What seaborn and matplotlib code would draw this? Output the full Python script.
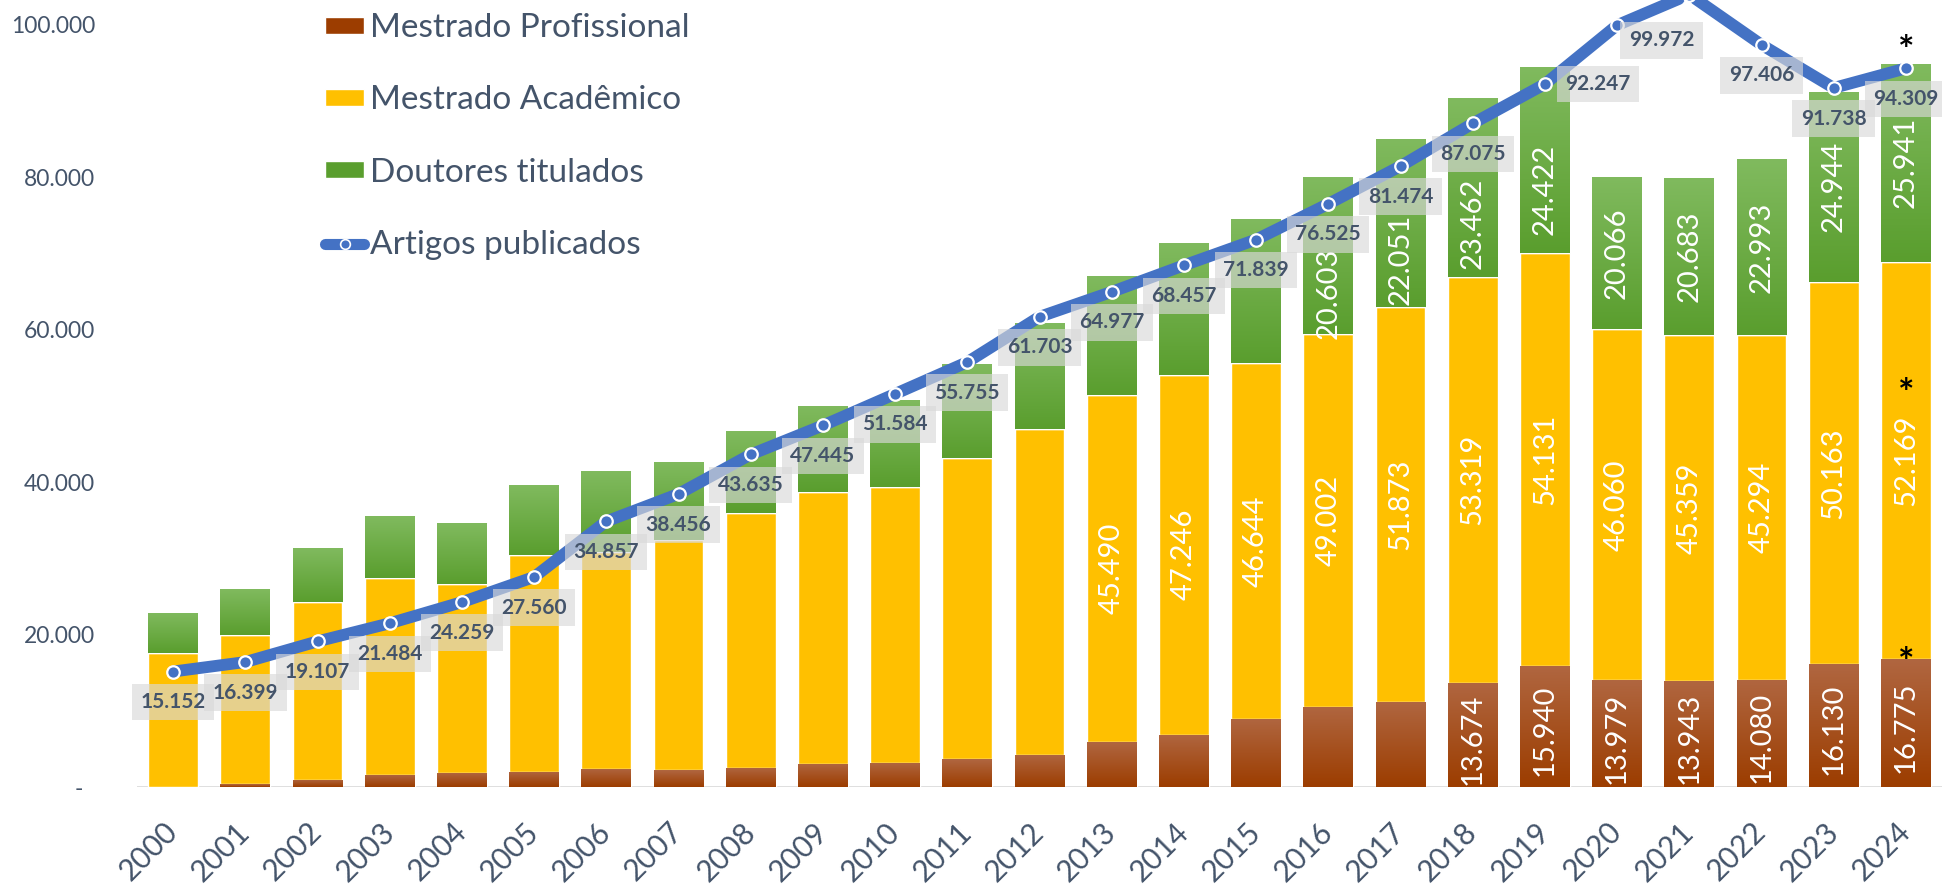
import numpy as np
import pandas as pd
import matplotlib
matplotlib.use('Agg')
import matplotlib.pyplot as plt
from matplotlib.colors import LinearSegmentedColormap
from matplotlib.patches import Patch
from matplotlib.lines import Line2D
import seaborn as sns

# Data
years = [str(y) for y in range(2000, 2025)]
mestrado_prof = [0, 350, 960, 1575, 1880, 2010, 2400, 2230, 2540, 3020, 3190, 3630, 4200,
                 5900, 6850, 8950, 10500, 11150, 13674, 15940, 13979, 13943, 14080, 16130, 16775]
mestrado_acad = [17550, 19600, 23320, 25900, 24760, 28440, 28500, 30170, 33420, 35690, 36180,
                 39550, 42780, 45490, 47246, 46644, 49002, 51873, 53319, 54131, 46060, 45359,
                 45294, 50163, 52169]
doutores = [5285, 6030, 7085, 8130, 7970, 9180, 10600, 10280, 10760, 11290, 11420, 12340, 13910,
            15670, 17295, 18946, 20603, 22051, 23462, 24422, 20066, 20683, 22993, 24944, 25941]
artigos = [15152, 16399, 19107, 21484, 24259, 27560, 34857, 38456, 43635, 47445, 51584, 55755,
           61703, 64977, 68457, 71839, 76525, 81474, 87075, 92247, 99972, 104000, 97406, 91738, 94309]
artigos_rotulo = [True] * 21 + [False] + [True] * 3
yticks = [0, 20000, 40000, 60000, 80000, 100000]
ytick_labels = ['-  ', '20.000', '40.000', '60.000', '80.000', '100.000']

df = pd.DataFrame({'ano': years, 'mp': mestrado_prof, 'ma': mestrado_acad,
                   'dr': doutores, 'art': artigos})
df['base_dr'] = df['mp'] + df['ma']

TXT = '#44546A'
BROWN = ('#B06640', '#9C3D00')
YELLOW = ('#FFC000', '#FFC000')
GREEN = ('#80BA5E', '#5A9E2E')
BLUE = '#4472C4'

sns.set_theme(style='white')
plt.rcParams['font.family'] = ['Lato', 'DejaVu Sans']


def fmt(v):
    return f'{int(v):,}'.replace(',', '.')


fig = plt.figure(figsize=(19.42, 8.91), dpi=100)
ax = fig.add_axes([137 / 1942, 104 / 891, 1805 / 1942, 787 / 891])

layers = [('mp', None, BROWN), ('ma', 'mp', YELLOW), ('dr', 'base_dr', GREEN)]
containers = []
for col, base, cols in layers:
    bottom = 0 if base is None else df[base].values
    sns.barplot(data=df, x='ano', y=col, bottom=bottom, color=cols[1], saturation=1,
                width=0.69, ax=ax, zorder=2)
    containers.append(ax.containers[-1])

# vertical gradient on each bar segment
for cont, (_, _, cols) in zip(containers, layers):
    if cols[0] == cols[1]:
        continue
    cmap = LinearSegmentedColormap.from_list('g', [cols[1], cols[0]])
    grad = np.linspace(0, 1, 64).reshape(-1, 1)
    for p in cont.patches:
        x0, y0 = p.get_x(), p.get_y()
        w, h = p.get_width(), p.get_height()
        if h <= 0:
            continue
        im = ax.imshow(grad, extent=[x0, x0 + w, y0, y0 + h], origin='lower',
                       aspect='auto', cmap=cmap, zorder=2.1)
        im.set_clip_path(p)

sns.lineplot(x=np.arange(len(years)), y=artigos, ax=ax, color=BLUE, lw=8.5,
             marker='o', markersize=9, markerfacecolor=BLUE, markeredgecolor='white',
             markeredgewidth=1.6, zorder=4, solid_joinstyle='round')

ax.set_xlim(-0.5, len(years) - 0.5)
ax.set_ylim(0, 103280)
ax.axhline(0, color='#D9D9D9', lw=1.2, zorder=1)
for s in ax.spines.values():
    s.set_visible(False)
ax.set_xlabel('')
ax.set_ylabel('')
ax.set_yticks(yticks)
ax.set_yticklabels(ytick_labels, fontsize=16.5, color=TXT)
ax.tick_params(axis='y', length=0, pad=30)
ax.tick_params(axis='x', length=0, pad=29)
ax.set_xticks(range(len(years)))
ax.set_xticklabels(years, rotation=45, ha='right', va='center', rotation_mode='anchor',
                   fontsize=21.5, color=TXT)
ax.grid(False)

# values inside bars
green_shift = {16: -38, 17: -37, 18: -36, 19: -29}
for i in range(len(years)):
    mp, ma, dr = mestrado_prof[i], mestrado_acad[i], doutores[i]
    if i >= 18:
        ax.annotate(fmt(mp), (i, mp / 2), xytext=(0, -3), textcoords='offset points',
                    rotation=90, ha='center', va='center', color='white', fontsize=21, zorder=3)
    if i >= 13:
        ax.text(i, mp + ma / 2, fmt(ma), rotation=90, ha='center', va='center', color='white',
                fontsize=21, zorder=3)
    if i >= 16:
        ax.annotate(fmt(dr), (i, mp + ma + dr / 2), xytext=(0, green_shift.get(i, 0) * 0.72),
                    textcoords='offset points', rotation=90, ha='center', va='center',
                    color='white', fontsize=21, zorder=3)

# article labels
label_off = {19: (38, 0), 20: (32, -11)}
for i, v in enumerate(artigos):
    if not artigos_rotulo[i]:
        continue
    ax.annotate(fmt(v), (i, v), xytext=label_off.get(i, (0, -22)), textcoords='offset points',
                ha='center', va='center', fontsize=15, fontweight='bold', color=TXT, zorder=5,
                bbox=dict(boxstyle='square,pad=0.4', fc='#D9D9D9', ec='none', alpha=0.65))

# asterisks on 2024
last = len(years) - 1
star = dict(textcoords='offset points', ha='center', va='center', fontsize=28,
            fontweight='bold', color='black', zorder=6)
ax.annotate('*', (last, artigos[last]), xytext=(0, 12), **star)
ax.annotate('*', (last, mestrado_prof[last] + mestrado_acad[last]), xytext=(0, -96), **star)
ax.annotate('*', (last, mestrado_prof[last]), xytext=(0, -3), **star)

handles = [Patch(facecolor=BROWN[1], label='Mestrado Profissional'),
           Patch(facecolor=YELLOW[1], label='Mestrado Acadêmico'),
           Patch(facecolor=GREEN[1], label='Doutores titulados'),
           Line2D([], [], color=BLUE, lw=8, marker='o', markersize=7, markerfacecolor=BLUE,
                  markeredgecolor='white', markeredgewidth=1.2, label='Artigos publicados')]
leg = fig.legend(handles=handles, loc='upper left', bbox_to_anchor=(325 / 1942, 1 - 13 / 891),
                 bbox_transform=fig.transFigure, frameon=False, fontsize=24,
                 handlelength=1.18, handleheight=0.4, handletextpad=0.17, labelspacing=1.27,
                 borderpad=0, borderaxespad=0)
for t in leg.get_texts():
    t.set_color(TXT)

fig.savefig('out.png', dpi=100)
